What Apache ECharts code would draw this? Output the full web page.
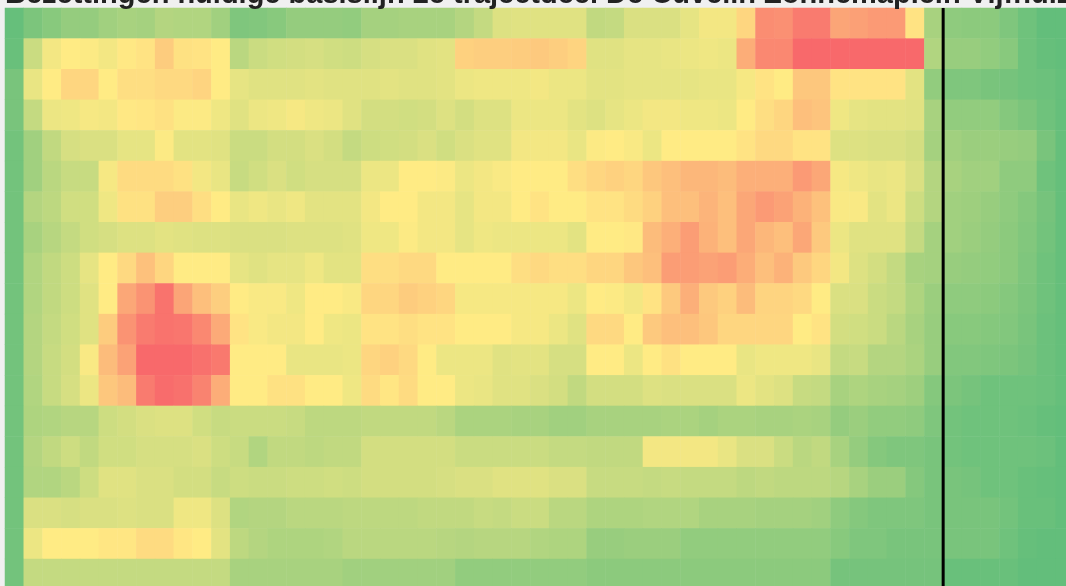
<!DOCTYPE html>
<html>
<head>
<meta charset="utf-8">
<title>Bezettingen</title>
<script src="https://cdn.jsdelivr.net/npm/echarts@6/dist/echarts.min.js"></script>
<style>
  html, body { margin: 0; padding: 0; background: #f0f0f0; overflow: hidden; }
  /* the chart is a crop: grid runs past the right and bottom edge of the window */
  #chart { width: 1090px; height: 600px; }
</style>
</head>
<body>
<div id="chart"></div>
<script>
const titleText = 'Bezettingen huidige basislijn 2e trajectdeel De Cuvelin Zonnemaplein Vijfhuizen';

// column (time slot) and row (segment) labels, axis labels are cut off in the picture
const columns = ['1','2','3','4','5','6','7','8','9','10','11','12','13','14','15','16','17','18','19','20',
  '21','22','23','24','25','26','27','28','29','30','31','32','33','34','35','36','37','38','39','40',
  '41','42','43','44','45','46','47','48','49','50','51','52','53','54','55','56','57'];
const rows = ['r1','r2','r3','r4','r5','r6','r7','r8','r9','r10','r11','r12','r13','r14','r15','r16','r17','r18','r19'];

// the vertical black divider sits between these two columns
const dividerBetween = ['50', '51'];

// occupancy, one array per row (top to bottom)
const row01 = [1,8,12,16,16,20,22,21,26,25,25,20,9,10,12,16,16,16,15,21,21,22,22,22,26,31,39,40,40,40,40,30,31,38,38,38,42,46,46,58,86,85,93,93,77,79,81,81,53,22,14,13,13,9,4,0,0];
const row02 = [2,33,46,50,49,46,51,53,62,54,53,50,28,33,35,36,37,35,34,37,38,38,40,41,60,61,61,62,63,61,59,40,40,42,42,43,44,45,44,74,88,88,100,100,100,100,100,100,100,25,17,17,15,12,4,1,0];
const row03 = [7,43,50,58,58,50,55,55,57,57,59,50,42,40,40,40,41,40,40,40,41,40,40,41,44,45,45,45,46,44,44,41,41,42,42,42,42,43,43,47,53,50,64,64,53,53,53,53,41,15,9,9,7,6,4,3,1];
const row04 = [7,31,44,45,47,46,51,52,54,49,49,45,40,44,45,47,45,44,40,36,36,35,36,39,36,39,39,44,44,44,41,39,42,44,46,46,45,45,44,50,55,58,67,65,45,42,41,41,40,22,15,15,15,11,8,4,1];
const row05 = [5,20,30,37,38,38,42,42,49,41,41,40,33,33,36,36,38,36,31,34,35,36,38,35,38,40,40,46,46,46,43,49,50,48,44,50,50,50,50,53,57,57,53,53,39,39,38,38,36,21,20,18,18,17,16,7,1];
const row06 = [5,20,28,32,32,47,56,56,56,54,46,43,32,35,38,35,37,37,37,44,44,50,50,49,44,46,48,50,50,50,55,58,60,58,64,67,70,70,68,73,73,73,81,76,47,45,43,44,38,26,22,20,20,14,14,4,1];
const row07 = [5,26,29,35,35,45,54,54,61,61,55,50,43,45,43,45,41,41,41,46,50,50,46,46,42,46,46,50,53,50,50,53,53,56,60,67,67,71,67,76,81,78,72,66,48,48,41,44,34,26,20,19,17,14,11,6,1];
const row08 = [5,22,27,31,35,37,39,39,41,40,39,39,38,38,38,39,39,39,40,45,45,49,46,46,42,45,44,44,44,44,41,50,50,51,68,73,80,72,67,76,70,67,76,63,44,40,40,40,31,21,20,18,16,13,10,5,1];
const row09 = [5,25,30,34,42,50,57,66,58,50,50,50,42,40,42,42,45,41,41,55,55,57,57,50,50,50,50,55,57,55,55,58,58,64,67,80,80,78,80,74,67,72,63,58,46,39,36,31,22,21,17,16,15,13,9,4,1];
const row10 = [5,25,30,34,40,50,76,84,96,77,67,61,50,48,48,45,50,50,48,58,58,62,60,58,47,47,47,47,47,47,44,50,49,46,53,63,73,63,60,68,59,59,57,50,38,38,33,31,24,18,14,14,13,11,8,4,1];
const row11 = [5,26,31,35,40,62,84,93,96,95,88,75,53,48,46,46,50,45,44,53,53,55,53,53,50,50,50,47,47,44,40,57,57,50,63,67,67,64,58,58,58,58,50,53,36,35,33,28,22,17,12,12,11,10,7,3,1];
const row12 = [5,26,32,36,48,68,78,100,100,100,97,94,50,50,50,43,43,43,44,58,60,57,50,44,44,44,40,41,41,37,37,50,50,44,50,54,50,50,50,43,45,45,45,43,31,32,26,26,23,17,10,10,9,8,6,3,1];
const row13 = [5,25,32,37,44,64,68,93,99,97,90,74,50,50,54,54,50,50,45,56,52,56,50,50,44,43,40,40,38,36,30,36,36,36,39,38,38,38,38,44,41,39,32,31,22,24,22,21,19,11,8,6,4,4,4,3,1];
const row14 = [5,24,25,27,27,34,36,38,39,39,35,32,33,33,33,32,29,29,29,30,30,30,30,28,23,23,23,22,22,20,20,22,22,22,22,23,23,21,23,23,22,22,23,22,16,18,15,15,14,9,5,4,4,4,3,1,0];
const row15 = [5,26,30,34,30,35,35,37,37,37,38,34,32,25,30,30,29,30,30,36,36,36,36,36,33,33,33,33,33,31,31,30,30,30,46,46,46,46,43,38,38,33,28,30,22,16,11,9,9,7,5,4,4,4,4,3,0];
const row16 = [5,25,25,28,34,40,40,38,38,36,36,32,34,33,33,34,34,35,34,36,36,36,36,37,38,38,40,40,40,38,38,32,32,32,31,32,31,31,31,29,30,29,29,29,27,22,18,18,11,7,7,6,4,4,2,1,0];
const row17 = [5,38,38,37,38,38,39,38,38,45,45,39,25,26,26,28,28,28,29,29,29,29,30,30,30,32,31,33,33,28,28,24,24,24,25,25,25,22,22,22,21,21,21,20,14,11,9,9,9,7,7,7,7,5,2,2,0];
const row18 = [5,44,50,50,50,52,52,56,56,52,50,41,29,26,24,24,24,25,28,28,28,28,28,27,26,27,27,27,25,24,24,17,17,18,18,18,15,15,15,15,15,15,15,15,12,9,9,7,7,7,7,7,7,4,1,0,0];
const row19 = [5,31,31,31,31,31,31,31,31,31,31,31,22,22,22,22,22,22,20,20,20,20,20,20,15,15,15,15,15,15,15,13,13,13,13,13,13,13,13,13,13,13,13,13,6,6,6,6,6,6,2,2,2,2,0,0,0];

const occupancy = [row01, row02, row03, row04, row05, row06, row07, row08, row09, row10,
  row11, row12, row13, row14, row15, row16, row17, row18, row19];

const getOption = () => {
    const cells = [];
    occupancy.forEach((vals, r) => {
        vals.forEach((v, c) => cells.push([c, r, v]));
    });
    const divX = (columns.indexOf(dividerBetween[0]) + columns.indexOf(dividerBetween[1])) / 2;

    return {
        backgroundColor: '#f0f0f0',
        animation: false,
        title: {
            text: titleText,
            left: 5,
            top: -20,
            padding: 0,
            textStyle: {
                fontFamily: 'Liberation Sans',
                fontSize: 29,
                fontWeight: 'bold',
                color: '#222'
            }
        },
        grid: {
            left: 5,
            top: 8,
            width: 1069.5,
            height: 581.6
        },
        xAxis: [
            {
                type: 'category',
                data: columns,
                show: false
            },
            {
                type: 'value',
                min: -0.5,
                max: columns.length - 0.5,
                show: false
            }
        ],
        yAxis: [
            {
                type: 'category',
                data: rows,
                inverse: true,
                show: false
            },
            {
                type: 'value',
                min: 0,
                max: 1,
                show: false
            }
        ],
        visualMap: {
            show: false,
            min: 0,
            max: 100,
            dimension: 2,
            seriesIndex: 0,
            inRange: {
                color: ['#63BE7B', '#FFEB84', '#F8696B']
            }
        },
        series: [
            {
                type: 'heatmap',
                data: cells,
                silent: true,
                itemStyle: { borderWidth: 0 }
            },
            {
                type: 'line',
                xAxisIndex: 1,
                yAxisIndex: 1,
                silent: true,
                symbol: 'none',
                lineStyle: { color: '#000', width: 3 },
                data: [[divX, 0], [divX, 1]]
            }
        ]
    };
};

const initChart = () => {
    const chart = echarts.init(document.getElementById('chart'));
    chart.setOption(getOption());
};

window.addEventListener('load', () => {
    initChart();
});
</script>
</body>
</html>
